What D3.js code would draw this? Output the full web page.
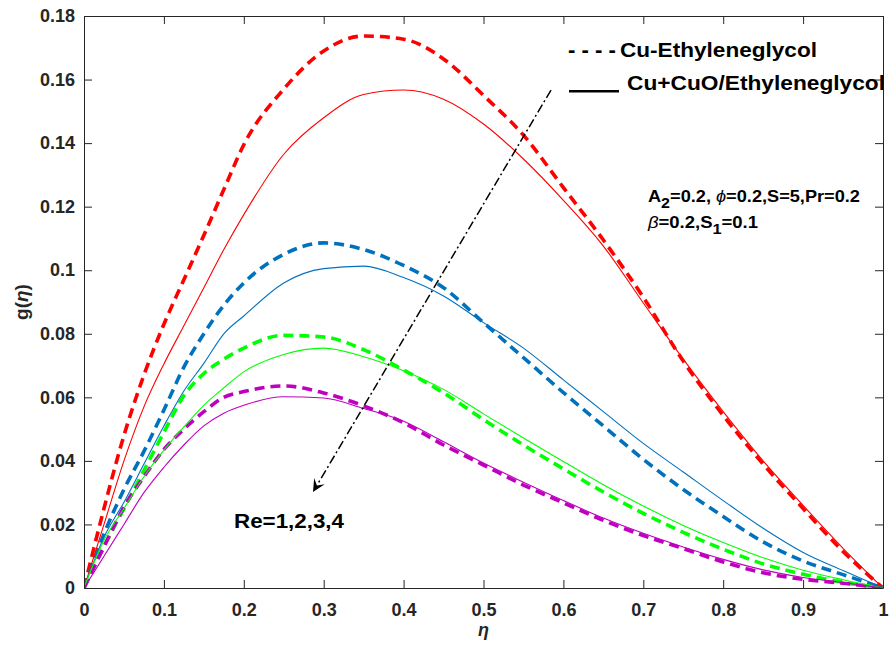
<!DOCTYPE html>
<html>
<head>
<meta charset="utf-8">
<script src="https://cdn.jsdelivr.net/npm/d3@7"></script>
<style>
  body { margin: 0; background: #fff; }
  text { font-family: "Liberation Sans", Arial, Helvetica, sans-serif; font-weight: bold; }
</style>
</head>
<body>
<svg id="chart" width="890" height="656"></svg>
<script>
// eta grid (x)
const eta = [0, 0.025, 0.05, 0.075, 0.1, 0.125, 0.15, 0.175, 0.2, 0.25, 0.3, 0.35, 0.4,
  0.45, 0.5, 0.55, 0.6, 0.65, 0.7, 0.75, 0.8, 0.85, 0.9, 0.95, 1];

// Cu-Ethyleneglycol (dashed), Re = 1..4
const cuRe1 = [0, 0.025, 0.048, 0.067, 0.083, 0.097, 0.111, 0.1254, 0.1395, 0.157, 0.169, 0.1737, 0.1727,
  0.1665, 0.155, 0.1425, 0.126, 0.1095, 0.0915, 0.0714, 0.0543, 0.039, 0.025, 0.0115, 0];
const cuRe2 = [0, 0.017, 0.031, 0.043, 0.056, 0.0695, 0.080, 0.089, 0.096, 0.105, 0.1086, 0.1065, 0.1015,
  0.0945, 0.0835, 0.0725, 0.0615, 0.051, 0.0405, 0.031, 0.0225, 0.0145, 0.0085, 0.0042, 0];
const cuRe3 = [0, 0.013, 0.025, 0.037, 0.049, 0.0605, 0.0675, 0.072, 0.0755, 0.0795, 0.079, 0.075, 0.0686,
  0.0614, 0.053, 0.045, 0.0375, 0.0302, 0.0235, 0.0175, 0.0122, 0.0076, 0.0043, 0.0018, 0];
const cuRe4 = [0, 0.013, 0.0255, 0.035, 0.0436, 0.050, 0.0555, 0.060, 0.0618, 0.0636, 0.0614, 0.0573, 0.052,
  0.045, 0.0387, 0.0324, 0.0268, 0.0213, 0.0165, 0.0124, 0.0082, 0.0048, 0.0027, 0.0015, 0];

// Cu+CuO/Ethyleneglycol (solid), Re = 1..4
const hyRe1 = [0, 0.02, 0.04, 0.057, 0.0705, 0.0825, 0.0945, 0.1065, 0.1175, 0.1365, 0.148, 0.1553, 0.1567,
  0.1538, 0.146, 0.135, 0.122, 0.1076, 0.0897, 0.072, 0.0555, 0.040, 0.026, 0.0125, 0];
const hyRe2 = [0, 0.016, 0.027, 0.039, 0.051, 0.062, 0.0707, 0.080, 0.0856, 0.096, 0.1005, 0.1013, 0.0977,
  0.0919, 0.0835, 0.0755, 0.0655, 0.0555, 0.0455, 0.0365, 0.0275, 0.0188, 0.0112, 0.0055, 0];
const hyRe3 = [0, 0.015, 0.025, 0.035, 0.0434, 0.0507, 0.0575, 0.063, 0.068, 0.0735, 0.0755, 0.0728, 0.0684,
  0.0625, 0.0548, 0.0472, 0.0398, 0.0325, 0.0258, 0.0197, 0.0143, 0.0095, 0.0056, 0.0026, 0];
const hyRe4 = [0, 0.010, 0.020, 0.030, 0.038, 0.045, 0.051, 0.055, 0.0575, 0.0602, 0.0598, 0.0565, 0.0525,
  0.046, 0.0393, 0.0333, 0.0275, 0.022, 0.0172, 0.0129, 0.0090, 0.0057, 0.0033, 0.0017, 0];

const reColors = ["#ff0000", "#0072bd", "#00ff00", "#bf00bf"];
const xTicks = [0, 0.1, 0.2, 0.3, 0.4, 0.5, 0.6, 0.7, 0.8, 0.9, 1];
const yTicks = [0, 0.02, 0.04, 0.06, 0.08, 0.1, 0.12, 0.14, 0.16, 0.18];

// arrow annotation, in data units
const arrowFrom = [0.5845, 0.1567];
const arrowTo = [0.2866, 0.0302];

const svg = d3.select("#chart");
const mLeft = 84, mRight = 883, mTop = 16, mBottom = 588;
const x = d3.scaleLinear().domain([0, 1]).range([mLeft, mRight]);
const y = d3.scaleLinear().domain([0, 0.18]).range([mBottom, mTop]);
const axisColor = "#262626";

svg.append("clipPath").attr("id", "clip")
  .append("rect").attr("x", mLeft).attr("y", mTop).attr("width", mRight - mLeft).attr("height", mBottom - mTop);

const line = d3.line().x(d => x(d[0])).y(d => y(d[1])).curve(d3.curveMonotoneX);
const plot = svg.append("g").attr("clip-path", "url(#clip)");

const dashed = [cuRe1, cuRe2, cuRe3, cuRe4];
const solid = [hyRe1, hyRe2, hyRe3, hyRe4];

// dashed first, thin solid lines on top
dashed.forEach((vals, i) => {
  plot.append("path")
    .datum(eta.map((e, k) => [e, vals[k]]))
    .attr("d", line)
    .attr("fill", "none")
    .attr("stroke", reColors[i])
    .attr("stroke-width", 3.6)
    .attr("stroke-dasharray", "10,6");
});
solid.forEach((vals, i) => {
  plot.append("path")
    .datum(eta.map((e, k) => [e, vals[k]]))
    .attr("d", line)
    .attr("fill", "none")
    .attr("stroke", reColors[i])
    .attr("stroke-width", 1.1);
});

// axes with box and inward ticks on all sides
function styleAxis(g) {
  g.selectAll("path, line").attr("stroke", axisColor).attr("stroke-width", 1);
  g.selectAll("text").attr("fill", "#262626").style("font-size", "18px").style("font-weight", "bold");
}
const fmt = d => d3.format("~g")(d);

svg.append("g").attr("transform", `translate(0,${mBottom})`)
  .call(d3.axisBottom(x).tickValues(xTicks).tickFormat(fmt).tickSizeInner(-8).tickSizeOuter(0).tickPadding(15))
  .call(styleAxis);
svg.append("g").attr("transform", `translate(0,${mTop})`)
  .call(d3.axisTop(x).tickValues(xTicks).tickFormat("").tickSizeInner(-8).tickSizeOuter(0))
  .call(styleAxis);
svg.append("g").attr("transform", `translate(${mLeft},0)`)
  .call(d3.axisLeft(y).tickValues(yTicks).tickFormat(fmt).tickSizeInner(-8).tickSizeOuter(0).tickPadding(9))
  .call(styleAxis);
svg.append("g").attr("transform", `translate(${mRight},0)`)
  .call(d3.axisRight(y).tickValues(yTicks).tickFormat("").tickSizeInner(-8).tickSizeOuter(0))
  .call(styleAxis);

// axis labels
svg.append("text").attr("x", x(0.5)).attr("y", 636).attr("text-anchor", "middle")
  .style("font-size", "18px").style("font-style", "italic").attr("fill", "#262626").text("η");
svg.append("text").attr("transform", `translate(28,${(mTop + mBottom) / 2}) rotate(-90)`)
  .attr("text-anchor", "middle").style("font-size", "19px").attr("fill", "#262626")
  .html('g(<tspan font-style="italic">η</tspan>)');

// legend (text-style, as in the figure)
svg.append("text").attr("x", 568).attr("y", 57).style("font-size", "22px")
  .attr("textLength", 48).attr("lengthAdjust", "spacingAndGlyphs").text("- - - -");
svg.append("text").attr("x", 620).attr("y", 57).style("font-size", "20px")
  .attr("textLength", 197).attr("lengthAdjust", "spacingAndGlyphs").text("Cu-Ethyleneglycol");
svg.append("rect").attr("x", 569).attr("y", 90).attr("width", 50).attr("height", 2.5).attr("fill", "#000");
svg.append("text").attr("x", 627).attr("y", 90).style("font-size", "20px")
  .attr("textLength", 258).attr("lengthAdjust", "spacingAndGlyphs").text("Cu+CuO/Ethyleneglycol");

// parameter text
const p1 = svg.append("text").attr("x", 648).attr("y", 202).style("font-size", "17px");
p1.append("tspan").text("A");
p1.append("tspan").attr("dy", 6).style("font-size", "15px").text("2");
p1.append("tspan").attr("dy", -6).text("=0.2, ");
p1.append("tspan").style("font-style", "italic").style("font-weight", "normal").text("ϕ");
p1.append("tspan").text("=0.2,S=5,Pr=0.2");
p1.attr("textLength", 212).attr("lengthAdjust", "spacingAndGlyphs");

const p2 = svg.append("text").attr("x", 648).attr("y", 228).style("font-size", "17px");
p2.append("tspan").style("font-style", "italic").style("font-weight", "normal").text("β");
p2.append("tspan").text("=0.2,S");
p2.append("tspan").attr("dy", 6).style("font-size", "15px").text("1");
p2.append("tspan").attr("dy", -6).text("=0.1");
p2.attr("textLength", 110).attr("lengthAdjust", "spacingAndGlyphs");

svg.append("text").attr("x", 234).attr("y", 528).style("font-size", "21px")
  .attr("textLength", 110).attr("lengthAdjust", "spacingAndGlyphs").text("Re=1,2,3,4");

// dash-dot arrow
const ax0 = x(arrowFrom[0]), ay0 = y(arrowFrom[1]), ax1 = x(arrowTo[0]), ay1 = y(arrowTo[1]);
const ang = Math.atan2(ay1 - ay0, ax1 - ax0);
const headLen = 14;
svg.append("line")
  .attr("x1", ax0).attr("y1", ay0)
  .attr("x2", ax1 - Math.cos(ang) * headLen * 0.6).attr("y2", ay1 - Math.sin(ang) * headLen * 0.6)
  .attr("stroke", "#000").attr("stroke-width", 1.5).attr("stroke-dasharray", "9,3,2,3");
const hp = [
  [ax1, ay1],
  [ax1 - headLen * Math.cos(ang - 0.45), ay1 - headLen * Math.sin(ang - 0.45)],
  [ax1 - headLen * 0.55 * Math.cos(ang), ay1 - headLen * 0.55 * Math.sin(ang)],
  [ax1 - headLen * Math.cos(ang + 0.45), ay1 - headLen * Math.sin(ang + 0.45)]
];
svg.append("path").attr("d", "M" + hp.map(p => p.join(",")).join("L") + "Z").attr("fill", "#000");
</script>
</body>
</html>
